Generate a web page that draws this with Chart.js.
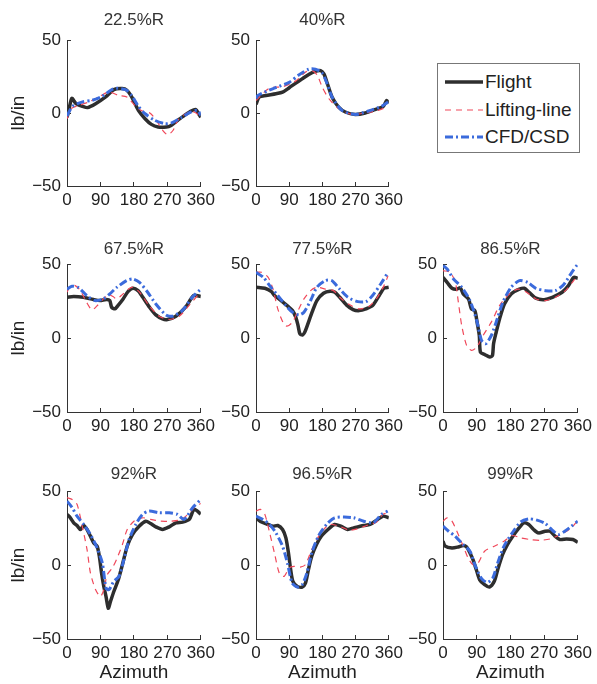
<!DOCTYPE html>
<html>
<head>
<meta charset="utf-8">
<script src="https://cdn.jsdelivr.net/npm/chart.js@4.4.1/dist/chart.umd.min.js"></script>
<style>
  html, body { margin: 0; padding: 0; background: #fff; }
  body { position: relative; width: 597px; height: 684px; overflow: hidden;
         font-family: "Liberation Sans", Arial, sans-serif; }
  canvas { position: absolute; }
  #legend { position: absolute; left: 437px; top: 63px; width: 143px; height: 90px;
            box-sizing: border-box; border: 1px solid #777; background: #fff; }
  #legend .item { position: absolute; left: 0; height: 22px; line-height: 22px;
                  font-size: 19px; color: #222; white-space: nowrap; }
  #legend svg { position: absolute; left: 6px; top: 6px; }
  #legend span { position: absolute; left: 47px; top: 0; }
</style>
</head>
<body>
<div id="legend"></div>
<script>
// Axis ticks
const azimuthTicks = [0, 90, 180, 270, 360];
const loadTicks = [-50, 0, 50];
const loadTickLabels = ['\u221250', '0', '50'];

// Series and panel names
const seriesNames = ['Flight', 'Lifting-line', 'CFD/CSD'];
const stations = ['22.5%R', '40%R', '67.5%R', '77.5%R', '86.5%R', '92%R', '96.5%R', '99%R'];

// Section normal force (lb/in) versus azimuth (deg), as [azimuth, value]
const flight225 = [[0,-3],[5,2],[13,10],[24,6.5],[42,4.6],[55,3.7],[77,6.4],[104,11],[126,16],[148,16.7],[161,15.6],[174,11],[192,1.8],[210,-3.9],[227,-7.8],[245,-9.6],[267,-9.6],[280,-8.5],[298,-5],[316,-1.6],[334,1.4],[347,2.3],[354,-0.5],[360,-3]];
const lifting225 = [[0,-4],[11,3],[33,5.3],[59,7.6],[86,11],[112,14.4],[139,12],[161,11],[183,5],[201,1.5],[223,0],[240,-5],[258,-12],[271,-15],[285,-12],[298,-5],[316,-1],[334,1],[347,0],[360,-3]];
const cfd225 = [[0,-2],[15,4.6],[42,7.6],[68,8.7],[95,11.5],[126,16.7],[157,16],[174,12],[192,4.6],[210,-0.5],[236,-5],[263,-7.3],[280,-6.9],[307,-3.2],[334,0.7],[351,1.8],[360,-1.6]];

const flight40 = [[0,6],[9,11],[27,12],[54,13.2],[72,14.3],[90,17.3],[108,20.5],[125,23.4],[143,26.4],[161,28.6],[175,29],[184,26.8],[193,20.5],[206,11],[224,4],[242,0.7],[269,-1],[296,0],[322,2.3],[345,4.5],[354,8.6],[360,6.8]];
const lifting40 = [[0,8.6],[36,17],[72,18],[108,22],[134,28],[152,29],[166,26],[179,18],[197,10],[224,3],[260,-1],[296,0],[331,1.8],[358,4.5]];
const cfd40 = [[0,10],[5,12],[45,16.6],[90,21],[116,26],[143,30],[161,30],[179,27.5],[193,20],[206,11],[233,1.8],[269,-1],[305,1.4],[340,4.5],[358,7.5]];

const flight675 = [[0,27.5],[18,28],[44,27.5],[71,26],[89,25.3],[106,26],[115,25.3],[120,20.8],[129,19.7],[137,21.9],[151,26.4],[164,31.3],[177,33.6],[191,32],[204,27.5],[222,20.8],[239,15.6],[257,12.9],[270,12.5],[293,14.7],[319,20.8],[341,28.7],[360,28]];
const lifting675 = [[0,31],[9,35],[22,35.4],[36,32],[53,24],[67,19],[80,21.5],[98,26.4],[111,29.3],[124,28],[133,26.4],[146,28.7],[164,32.7],[177,34.3],[195,31],[222,21.5],[248,14.7],[275,12.5],[302,14.7],[328,21.9],[355,29.8],[360,31]];
const cfd675 = [[0,33],[13,35],[31,34],[53,28.7],[75,25.3],[98,26.4],[115,29.8],[133,34],[160,38.8],[177,39.9],[195,37.6],[217,30.9],[239,23],[266,15.6],[284,14.7],[310,18.5],[337,27.5],[360,33]];

const flight775 = [[0,34.3],[24,33.6],[42,31.3],[50,28.7],[68,25.3],[86,21.5],[99,18.5],[108,14],[114,8.4],[119,2.8],[126,2],[132,3.9],[139,8.4],[152,17.4],[165,25.3],[183,30.2],[201,31.6],[214,30.9],[227,27.5],[245,22.4],[263,19.2],[280,18.5],[298,19.7],[316,21.9],[334,28.7],[347,33.6],[360,34.3]];
const lifting775 = [[0,44.4],[15,44.4],[33,41],[46,33],[59,19.7],[73,10.7],[84,8],[99,10.7],[112,17.4],[130,26.4],[148,32],[165,34.3],[188,33],[210,32],[227,27.5],[254,22.4],[280,19.7],[307,21.5],[329,27.5],[347,35.4],[358,42]];
const cfd775 = [[0,44.4],[20,41],[37,35.4],[59,28.7],[81,21.9],[99,17.4],[117,15.6],[130,17.4],[148,25.3],[165,34.3],[188,38.8],[205,38.8],[227,33],[249,27.5],[276,24.6],[298,24.6],[316,28.7],[338,36.5],[358,44.4]];

const flight865 = [[0,41],[11,37.6],[24,33.6],[37,33],[46,34],[54,29.8],[68,26.4],[76,19.7],[85,18.5],[91,10.7],[97,1.7],[100,-9.6],[112,-11.3],[125,-12.9],[132,-11.8],[135,-3.9],[142,3.9],[151,12.9],[164,23],[182,29.8],[204,33],[217,33.6],[230,30.9],[248,26.9],[270,25.9],[292,27.5],[318,30.9],[335,35.4],[349,41],[360,40.3]];
const lifting865 = [[0,45.5],[19,44.4],[33,37.6],[41,24.2],[50,8.4],[63,-5],[76,-8.4],[90,-6.2],[107,1.7],[129,10.7],[151,21.9],[173,28.7],[199,33],[221,31.3],[248,26.4],[274,25.3],[300,27.5],[327,32],[349,38.8],[360,42]];
const cfd865 = [[0,48.9],[11,46.6],[28,39.9],[50,34.3],[72,25.3],[90,11.8],[103,-1.7],[114,-3.9],[129,1.7],[142,10.7],[160,24.2],[182,34.3],[204,38.8],[226,37.6],[248,33.6],[274,32],[300,32],[322,36],[344,44.4],[360,50]];

const flight92 = [[0,34.2],[9,31.9],[18,28.5],[27,26.7],[36,24],[45,26.7],[54,24],[63,19.5],[72,14.9],[81,12.7],[87,5.9],[93,-5.4],[99,-14.5],[105,-21.3],[111,-29.2],[117,-24.7],[126,-17.9],[138,-10],[149,0.2],[162,12.7],[176,20.6],[194,26.2],[212,29.6],[225,28],[239,25.8],[257,24],[275,25.8],[293,28.5],[311,29],[329,30.8],[342,37.6],[360,34.4]];
const lifting92 = [[0,45.5],[14,44.3],[27,41],[41,26.2],[54,10.4],[63,-5.4],[77,-16.7],[90,-21.3],[99,-16.7],[108,-6.6],[122,-2],[135,4.8],[149,13.8],[162,24],[180,29.6],[203,31.9],[225,30.8],[252,29.6],[279,29.6],[302,30.3],[320,33],[342,38.7],[360,41.6]];
const cfd92 = [[0,43.2],[14,38.7],[27,33],[45,27.4],[63,20.6],[81,11.5],[95,1.4],[105,-15.6],[113,-16.7],[126,-11],[140,-7.7],[153,3.6],[167,17.2],[185,27.4],[203,34.2],[221,36.4],[248,35.3],[275,35.3],[297,34.2],[315,30.8],[338,38.7],[360,44.3]];

const flight965 = [[0,31.9],[15,29],[33,27.4],[46,26.2],[59,26.7],[72,24],[81,18.3],[88,8.1],[94,-3.2],[100,-11],[112,-14.5],[125,-14.9],[134,-12.2],[142,-3.2],[151,5.9],[164,13.8],[177,19.5],[195,24],[213,27.4],[230,26.2],[248,24],[265,25.1],[292,26.7],[309,27.4],[327,30.3],[344,33],[360,31.9]];
const lifting965 = [[0,36.4],[12,37.6],[24,34.2],[37,21.7],[50,8.1],[63,-5.4],[76,-7.7],[90,-2],[103,-0.9],[120,-1.4],[134,0.2],[151,10.4],[173,20.6],[199,27.4],[230,25.8],[252,23.5],[274,24.4],[300,26.7],[327,29],[344,34.2],[357,35.3]];
const cfd965 = [[0,33],[19,30.8],[37,27.4],[54,21.7],[72,12.7],[85,1.4],[98,-12.2],[112,-14.9],[125,-13.3],[138,-5.4],[151,8.1],[169,19.5],[191,27.4],[213,31.9],[239,32.4],[265,31.9],[292,29.6],[318,28.5],[340,34.2],[357,36.4]];

const flight99 = [[0,16.1],[6,12.7],[24,11.5],[41,12.2],[54,13.1],[63,12.2],[72,8.1],[80,3.6],[89,-3.2],[98,-10],[111,-13.3],[124,-14.9],[137,-11],[146,-3.2],[159,7],[172,13.8],[185,19],[203,25.1],[216,28.5],[229,27.4],[242,24],[255,21.7],[273,22.8],[286,22.8],[299,19.5],[312,17.2],[330,17.6],[347,17.2],[360,15.4]];
const lifting99 = [[0,29.6],[11,31.9],[24,29.6],[37,22.8],[54,12.7],[67,4.8],[80,0.2],[94,1.4],[111,9.3],[137,12.7],[163,16.1],[185,19.9],[207,18.3],[233,17.2],[260,16.7],[286,17.6],[308,19.9],[330,22.8],[347,26.2],[360,30.3]];
const cfd99 = [[0,26.2],[15,22.8],[32,19.5],[54,13.8],[72,9.3],[85,0.2],[102,-8.8],[118,-11.8],[133,-8.8],[146,1.4],[163,12.7],[185,21.7],[207,29],[229,31.2],[251,30.3],[273,28],[295,22.8],[308,20.6],[325,22.8],[343,26.2],[360,29.6]];

// Line styles for the three series
const seriesStyles = [
  { color: '#2e2e2e', width: 3.5, dash: [],           order: 3 },
  { color: '#f0485a', width: 1.2, dash: [6, 5],       order: 2 },
  { color: '#3b6bdc', width: 3,   dash: [8, 3, 2, 3], order: 1 }
];

// Grid of panels: plot-area geometry per column and row
const colLeft = [67, 256, 443];
const colWidth = [136, 135, 137];
const rowPlotTop = [40, 264, 491];
const rowPlotHeight = [146, 148, 148];
const rowCanvasTop = [10, 239, 464];
const Y_AXIS_W = 60, RIGHT_PAD = 20;
const TICK_SIZE = 17, TITLE_SIZE = 17, LABEL_SIZE = 19;

const panels = [
  { row: 0, col: 0, series: [flight225, lifting225, cfd225] },
  { row: 0, col: 1, series: [flight40,  lifting40,  cfd40] },
  { row: 1, col: 0, series: [flight675, lifting675, cfd675] },
  { row: 1, col: 1, series: [flight775, lifting775, cfd775] },
  { row: 1, col: 2, series: [flight865, lifting865, cfd865] },
  { row: 2, col: 0, series: [flight92,  lifting92,  cfd92] },
  { row: 2, col: 1, series: [flight965, lifting965, cfd965] },
  { row: 2, col: 2, series: [flight99,  lifting99,  cfd99] }
];

const FONT = '"Liberation Sans", Arial, sans-serif';
const AXIS_COLOR = '#333';
const TEXT_COLOR = '#222';

panels.forEach((p, i) => {
  const lastRow = p.row === 2;
  const xAxisH = lastRow ? 45 : 30;
  const canvasTop = rowCanvasTop[p.row];
  const titleGap = rowPlotTop[p.row] - canvasTop - TITLE_SIZE * 1.2;
  const w = Y_AXIS_W + colWidth[p.col] + RIGHT_PAD;
  const h = (rowPlotTop[p.row] - canvasTop) + rowPlotHeight[p.row] + xAxisH;

  const canvas = document.createElement('canvas');
  canvas.width = w; canvas.height = h;
  canvas.style.left = (colLeft[p.col] - Y_AXIS_W) + 'px';
  canvas.style.top = canvasTop + 'px';
  canvas.style.width = w + 'px'; canvas.style.height = h + 'px';
  document.body.appendChild(canvas);

  new Chart(canvas, {
    type: 'line',
    data: {
      datasets: p.series.map((s, k) => ({
        label: seriesNames[k],
        data: s.map(([x, y]) => ({ x, y })),
        borderColor: seriesStyles[k].color,
        borderWidth: seriesStyles[k].width,
        borderDash: seriesStyles[k].dash,
        order: seriesStyles[k].order,
        fill: false,
        pointRadius: 0,
        tension: 0.25,
        borderJoinStyle: 'round'
      }))
    },
    options: {
      responsive: false,
      animation: false,
      devicePixelRatio: 1,
      layout: { padding: { left: 0, right: RIGHT_PAD, top: 0, bottom: 0 } },
      plugins: {
        legend: { display: false },
        tooltip: { enabled: false },
        title: {
          display: true,
          text: stations[i],
          fullSize: false,
          color: '#333',
          font: { family: FONT, size: TITLE_SIZE, weight: 'normal', lineHeight: 1.2 },
          padding: { top: 0, bottom: titleGap }
        }
      },
      scales: {
        x: {
          type: 'linear',
          min: 0, max: 360,
          afterBuildTicks: s => { s.ticks = azimuthTicks.map(v => ({ value: v })); },
          afterFit: s => { s.height = xAxisH; },
          ticks: { autoSkip: false, maxRotation: 0, minRotation: 0, padding: 8,
                   color: TEXT_COLOR, font: { family: FONT, size: TICK_SIZE } },
          grid: { drawOnChartArea: false, drawTicks: true, tickLength: -4, color: AXIS_COLOR },
          border: { color: AXIS_COLOR, width: 1 },
          title: { display: lastRow, text: 'Azimuth', color: TEXT_COLOR,
                   font: { family: FONT, size: LABEL_SIZE, lineHeight: 1.2 },
                   padding: { top: 0, bottom: 0 } }
        },
        y: {
          min: -50, max: 50,
          afterBuildTicks: s => { s.ticks = loadTicks.map(v => ({ value: v })); },
          afterFit: s => { s.width = Y_AXIS_W; },
          ticks: { padding: 10, color: TEXT_COLOR, font: { family: FONT, size: TICK_SIZE },
                   callback: v => loadTickLabels[loadTicks.indexOf(v)] },
          grid: { drawOnChartArea: false, drawTicks: true, tickLength: -4, color: AXIS_COLOR },
          border: { color: AXIS_COLOR, width: 1 },
          title: { display: p.col === 0, text: 'lb/in', color: TEXT_COLOR,
                   font: { family: FONT, size: LABEL_SIZE, lineHeight: 1.2 },
                   padding: { top: 0, bottom: 0 } }
        }
      }
    }
  });
});

// Legend box in the upper-right cell
const legend = document.getElementById('legend');
const legendRowTop = [7, 35, 62];
seriesNames.forEach((name, k) => {
  const st = seriesStyles[k];
  const item = document.createElement('div');
  item.className = 'item';
  item.style.top = legendRowTop[k] + 'px';
  item.innerHTML =
    '<svg width="40" height="10"><line x1="1" y1="5" x2="39" y2="5" stroke="' + st.color +
    '" stroke-width="' + st.width + '" stroke-dasharray="' + (st.dash.length ? st.dash.join(',') : 'none') +
    '"/></svg><span>' + name + '</span>';
  legend.appendChild(item);
});
</script>
</body>
</html>
